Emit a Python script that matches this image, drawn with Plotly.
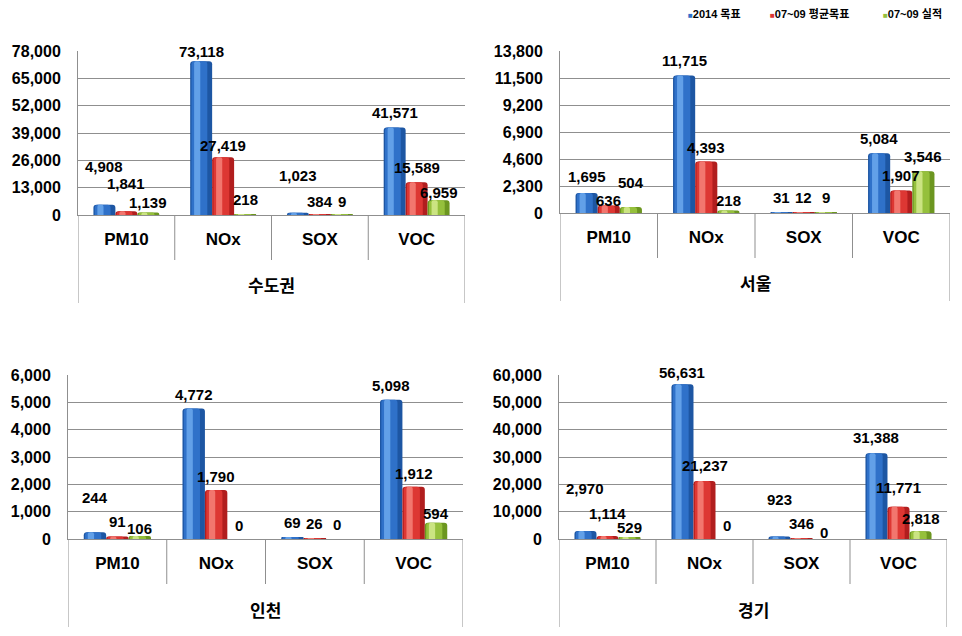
import plotly.graph_objects as go

categories = ["PM10", "NOx", "SOX", "VOC"]
series_names = ["2014 목표", "07~09 평균목표", "07~09 실적"]
regions = ["수도권", "서울", "인천", "경기"]

sudogwon_target = [4908, 73118, 1023, 41571]
sudogwon_avg = [1841, 27419, 384, 15589]
sudogwon_actual = [1139, 218, 9, 6959]

seoul_target = [1695, 11715, 31, 5084]
seoul_avg = [636, 4393, 12, 1907]
seoul_actual = [504, 218, 9, 3546]

incheon_target = [244, 4772, 69, 5098]
incheon_avg = [91, 1790, 26, 1912]
incheon_actual = [106, 0, 0, 594]

gyeonggi_target = [2970, 56631, 923, 31388]
gyeonggi_avg = [1114, 21237, 346, 11771]
gyeonggi_actual = [529, 0, 0, 2818]

yticks_sudogwon = [0, 13000, 26000, 39000, 52000, 65000, 78000]
yticks_seoul = [0, 2300, 4600, 6900, 9200, 11500, 13800]
yticks_incheon = [0, 1000, 2000, 3000, 4000, 5000, 6000]
yticks_gyeonggi = [0, 10000, 20000, 30000, 40000, 50000, 60000]

panels = [
    (regions[0], [sudogwon_target, sudogwon_avg, sudogwon_actual], yticks_sudogwon),
    (regions[1], [seoul_target, seoul_avg, seoul_actual], yticks_seoul),
    (regions[2], [incheon_target, incheon_avg, incheon_actual], yticks_incheon),
    (regions[3], [gyeonggi_target, gyeonggi_avg, gyeonggi_actual], yticks_gyeonggi),
]

# label placement style: pixel lift of each value label centre above its bar top
label_lift = [
    [[38, 10, 37, 15], [28, 12, 13, 15], [10, 15, 13, 8]],
    [[17, 15, 15, 15], [5, 14, 15, 15], [25, 10, 15, 15]],
    [[35, 14, 15, 14], [15, 14, 15, 13], [8, 14, 15, 9]],
    [[42, 12, 37, 16], [22, 15, 15, 19], [10, 14, 7, 13]],
]

W, H = 962, 636
boxes = [  # left, right, top, bottom (px)
    (78, 465, 51, 215),
    (560, 950, 51, 213),
    (68, 463, 375, 539),
    (559, 947, 375, 539),
]

shades = [
    ("#1d56a3", "#2f71c9", "#62a0e8"),
    ("#b11e1e", "#dd3733", "#f2766e"),
    ("#6c9620", "#95c03c", "#cbe482"),
]

NUM = "Liberation Sans, Arial, sans-serif"
KR = "Noto Sans CJK KR, sans-serif"
GRID = "#8f8f8f"

fig = go.Figure()
layout = dict(
    width=W, height=H, margin=dict(l=0, r=0, t=0, b=0, autoexpand=False),
    paper_bgcolor="white", plot_bgcolor="white",
    barmode="overlay", showlegend=False,
    annotations=[], shapes=[],
)

bw = 0.227
for p, (region, series, yticks) in enumerate(panels):
    xa = "x" if p == 0 else f"x{p+1}"
    ya = "y" if p == 0 else f"y{p+1}"
    l, r, t, b = boxes[p]
    xkey = "xaxis" if p == 0 else f"xaxis{p+1}"
    ykey = "yaxis" if p == 0 else f"yaxis{p+1}"
    layout[xkey] = dict(
        domain=[l / W, r / W], anchor=ya, range=[-0.5, 3.5], automargin=False,
        tickvals=list(range(len(categories))), ticktext=categories,
        showgrid=False, zeroline=False, showline=True, linecolor=GRID, linewidth=1,
        ticks="", ticklabelstandoff=9,
        tickfont=dict(family=NUM, size=17, color="black", weight="bold"),
    )
    layout[ykey] = dict(
        domain=[1 - b / H, 1 - t / H], anchor=xa, range=[0, yticks[-1]], automargin=False,
        tickvals=yticks, tickformat=",d", showgrid=True, gridcolor=GRID, gridwidth=1,
        zeroline=False, showline=True, linecolor=GRID, linewidth=1,
        ticks="", ticklabelstandoff=13,
        tickfont=dict(family=NUM, size=16, color="black", weight="bold"),
    )
    ph = b - t
    for s, vals in enumerate(series):
        xs = [i + (s - 1) * bw for i in range(len(categories))]
        base, mid, hi = shades[s]
        for width_f, off_f, col, cr in [(1.0, -0.5, base, 3), (0.72, -0.44, mid, 3), (0.28, -0.32, hi, 2)]:
            fig.add_trace(go.Bar(
                x=xs, y=vals, xaxis=xa, yaxis=ya,
                width=bw * width_f, offset=bw * off_f,
                marker=dict(color=col, line=dict(width=0), cornerradius=cr),
                hoverinfo="skip" if width_f < 1 else None,
                name=series_names[s],
            ))
        for i, (x, v) in enumerate(zip(xs, vals)):
            layout["annotations"].append(dict(
                x=x, y=v, xref=xa, yref=ya, text=f"{v:,}", showarrow=False,
                yanchor="middle", yshift=label_lift[p][s][i],
                font=dict(family=NUM, size=15, color="black", weight="bold"),
            ))
    for k in range(len(categories) + 1):
        outer = k in (0, len(categories))
        depth = 88 if outer else 45
        layout["shapes"].append(dict(
            type="line", xref=xa, yref=f"{ya} domain",
            x0=k - 0.5, x1=k - 0.5, y0=0, y1=-depth / ph,
            line=dict(color=GRID, width=1),
        ))
    layout["annotations"].append(dict(
        x=0.5, y=-70 / ph, xref=f"{xa} domain", yref=f"{ya} domain",
        text=f"<b>{region}</b>", showarrow=False, yanchor="middle",
        font=dict(family=KR, size=17, color="black"),
    ))

legend_x = [686, 768, 881]
for s, name in enumerate(series_names):
    layout["annotations"].append(dict(
        x=legend_x[s] / W, y=1 - 14 / H, xref="paper", yref="paper",
        xanchor="left", yanchor="middle", showarrow=False,
        text=f"<span style='color:{shades[s][1]};font-size:8px'>■</span><b>{name}</b>",
        font=dict(family="Liberation Sans, Noto Sans CJK KR, sans-serif", size=11, color="black"),
    ))

fig.update_layout(**layout)
fig.write_html("out.html")
